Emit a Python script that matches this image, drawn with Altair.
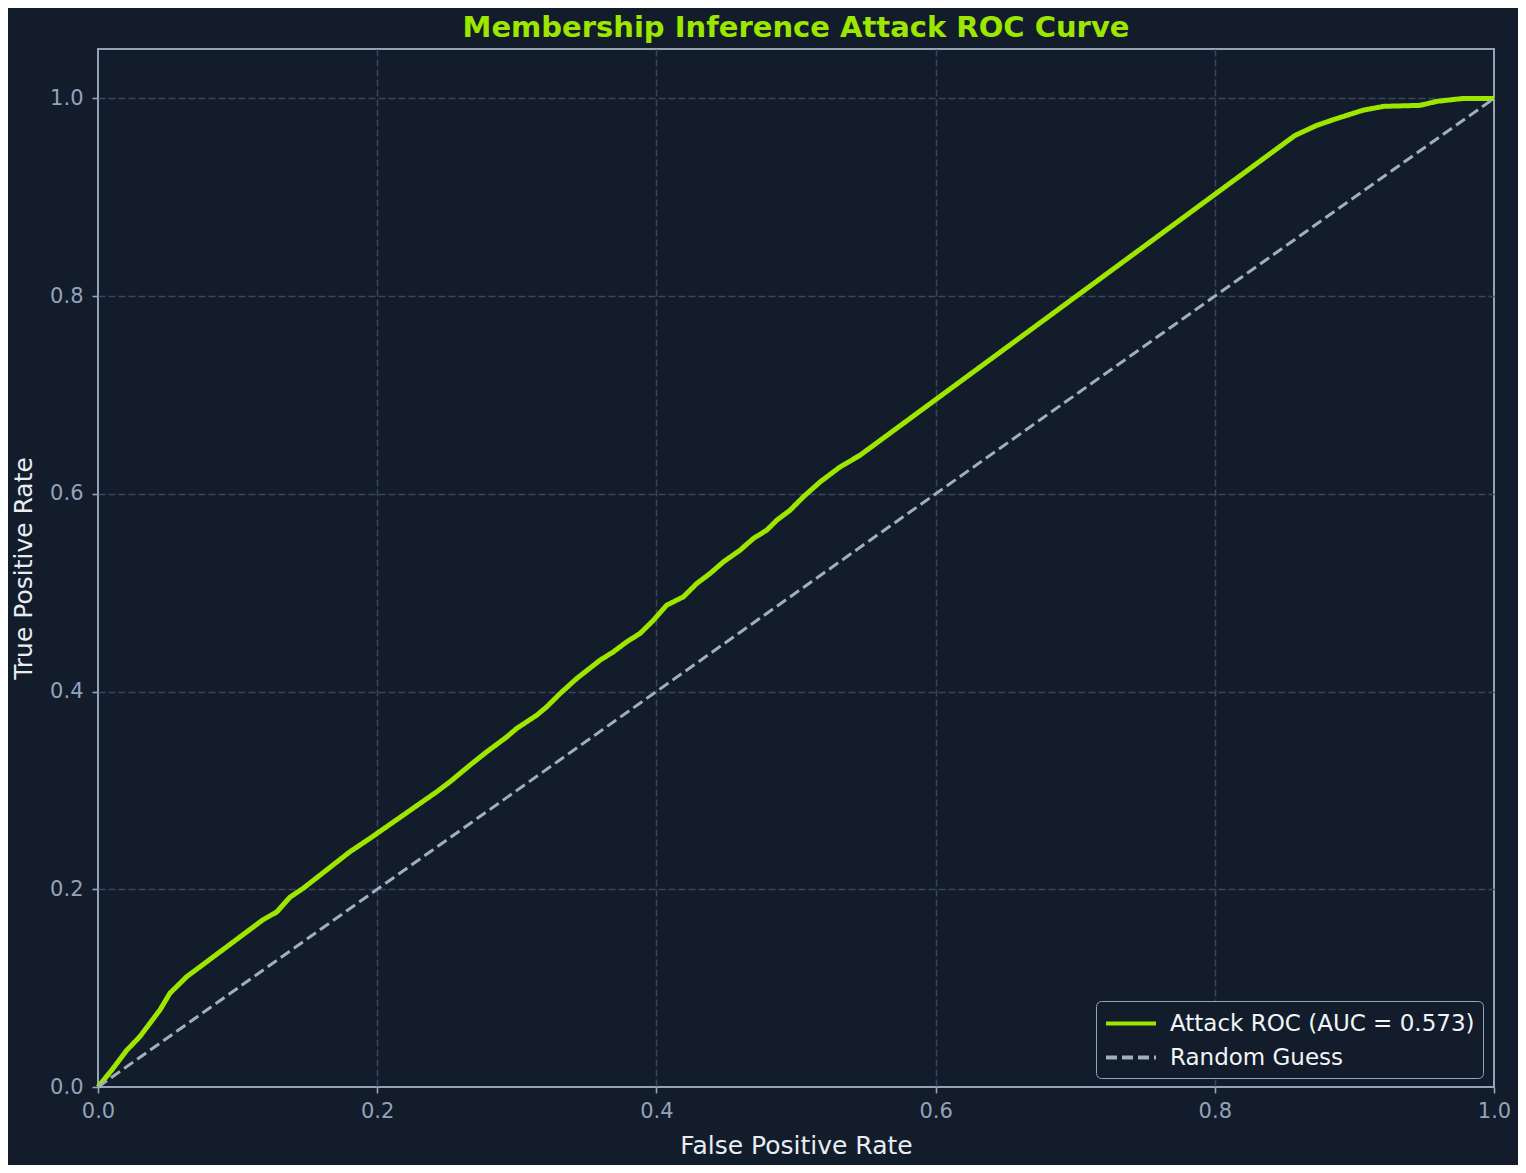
import altair as alt
import pandas as pd

# ROC curve
roc_fpr = [0, 0.0098, 0.0205, 0.030, 0.0444, 0.0516, 0.0635, 0.118, 0.128, 0.1375, 0.147, 0.1805,
           0.1948, 0.2426, 0.2521, 0.2665, 0.2784, 0.2927, 0.2999, 0.3142, 0.3214, 0.331,
           0.3429, 0.3596, 0.3692, 0.3787, 0.3883, 0.3978, 0.4074, 0.4193, 0.4289, 0.4384,
           0.448, 0.4599, 0.4694, 0.479, 0.4862, 0.4957, 0.5052, 0.5172, 0.5315, 0.5458,
           0.8575, 0.873, 0.887, 0.906, 0.921, 0.947, 0.959, 0.978, 1.0]
roc_tpr = [0, 0.017, 0.037, 0.051, 0.078, 0.095, 0.1115, 0.169, 0.177, 0.192, 0.201, 0.238,
           0.2515, 0.2986, 0.3087, 0.3256, 0.339, 0.354, 0.3627, 0.376, 0.3845, 0.398,
           0.4132, 0.4317, 0.4402, 0.4503, 0.4588, 0.472, 0.4874, 0.4958, 0.5093, 0.5194,
           0.5312, 0.543, 0.5548, 0.5632, 0.5733, 0.5834, 0.5969, 0.612, 0.6272, 0.639,
           0.9626, 0.9727, 0.9795, 0.988, 0.992, 0.993, 0.997, 1.0, 1.0]

diag_fpr = [0.0, 1.0]
diag_tpr = [0.0, 1.0]

series_names = ["Attack ROC (AUC = 0.573)", "Random Guess"]
tick_values = [0.0, 0.2, 0.4, 0.6, 0.8, 1.0]

rows = []
for i, (x, y) in enumerate(zip(roc_fpr, roc_tpr)):
    rows.append({"fpr": x, "tpr": y, "series": series_names[0], "wkey": "a", "order": i})
for i, (x, y) in enumerate(zip(diag_fpr, diag_tpr)):
    rows.append({"fpr": x, "tpr": y, "series": series_names[1], "wkey": "b", "order": i})
df = pd.DataFrame(rows)

BG = "#131c2b"
LIME = "#9de600"
SLATE = "#94a3b8"

legend_kw = dict(orient="none", legendX=998, legendY=952)

chart = alt.Chart(df).mark_line(strokeCap="butt").encode(
    x=alt.X("fpr:Q", title="False Positive Rate",
            scale=alt.Scale(domain=[0, 1], nice=False, zero=False),
            axis=alt.Axis(values=tick_values, format=".1f",
                          gridOpacity={"condition": {"test": "datum.value === 0 || datum.value === 1", "value": 0}, "value": 1})),
    y=alt.Y("tpr:Q", title="True Positive Rate",
            scale=alt.Scale(domain=[0, 1.05], nice=False, zero=False),
            axis=alt.Axis(values=tick_values, format=".1f",
                          gridOpacity={"condition": {"test": "datum.value === 0", "value": 0}, "value": 1})),
    color=alt.Color("series:N", title=None,
                    scale=alt.Scale(domain=series_names, range=[LIME, "#a0aec0"]),
                    legend=alt.Legend(**legend_kw)),
    strokeDash=alt.StrokeDash("series:N", title=None,
                              scale=alt.Scale(domain=series_names, range=[[1, 0], [11, 5]]),
                              legend=alt.Legend(**legend_kw)),
    strokeWidth=alt.StrokeWidth("wkey:N", legend=None,
                                scale=alt.Scale(domain=["a", "b"], range=[5, 3])),
    order="order:Q",
).properties(
    width=1396,
    height=1038,
    autosize=alt.AutoSizeParams(type="none"),
    padding={"left": 90, "top": 41, "right": 24, "bottom": 78},
    background=BG,
    title=alt.TitleParams(
        "Membership Inference Attack ROC Curve",
        fontSize=29, fontWeight="bold", color=LIME, font="DejaVu Sans",
        anchor="middle", offset=6,
    ),
).configure_view(
    stroke=SLATE, strokeWidth=2, fill=BG,
).configure_axis(
    domain=False,
    grid=True, gridColor="#3a4557", gridDash=[7, 3], gridWidth=1.5,
    ticks=True, tickColor=SLATE, tickSize=6, tickWidth=1.6,
    labelColor=SLATE, labelFontSize=21, labelFont="DejaVu Sans",
    labelFlush=False, labelOverlap=False,
    titleColor="#e8edf4", titleFontSize=25, titleFont="DejaVu Sans", titleFontWeight="normal",
).configure_axisX(titlePadding=12, labelPadding=7).configure_axisY(titlePadding=13, labelPadding=9).configure_legend(
    fillColor=BG, strokeColor=SLATE, cornerRadius=5, padding=8,
    labelColor="#f1f5f9", labelFontSize=23, labelFont="DejaVu Sans", labelLimit=500,
    symbolType="M-1,0L3,0", symbolSize=625, symbolStrokeWidth=4, labelOffset=37,
    rowPadding=7,
)

chart.save("out.html", embed_options={"renderer": "svg", "actions": False})
